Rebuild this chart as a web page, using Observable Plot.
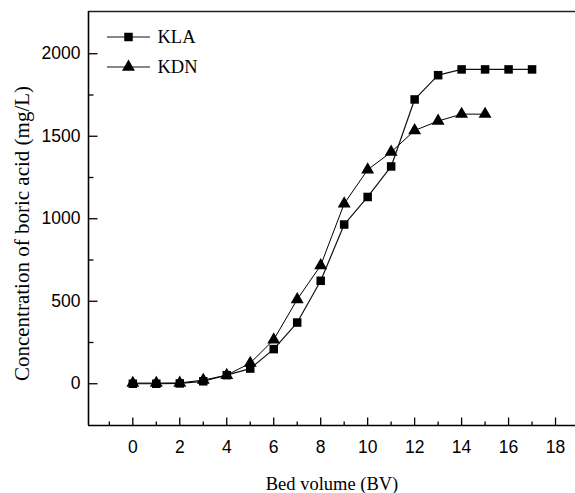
<!DOCTYPE html>
<html>
<head>
<meta charset="utf-8">
<script src="https://cdn.jsdelivr.net/npm/d3@7"></script>
<script src="https://cdn.jsdelivr.net/npm/@observablehq/plot@0.6"></script>
<style>
  html, body { margin: 0; padding: 0; background: #fff; }
  svg { display: block; }
</style>
</head>
<body>
<div id="chart"></div>
<script>
// Data
const bedVolumeKLA = [0, 1, 2, 3, 4, 5, 6, 7, 8, 9, 10, 11, 12, 13, 14, 15, 16, 17];
const concKLA = [0, 0, 2, 15, 52, 92, 210, 371, 624, 965, 1132, 1317, 1723, 1870, 1905, 1905, 1905, 1905];
const bedVolumeKDN = [0, 1, 2, 3, 4, 5, 6, 7, 8, 9, 10, 11, 12, 13, 14, 15];
const concKDN = [4, 4, 5, 22, 52, 125, 267, 511, 717, 1091, 1297, 1404, 1535, 1592, 1634, 1634];
const xTicksMajor = [0, 2, 4, 6, 8, 10, 12, 14, 16, 18];
const xTicksMinor = [-1, 1, 3, 5, 7, 9, 11, 13, 15, 17];
const yTicksMajor = [0, 500, 1000, 1500, 2000];
const yTicksMinor = [250, 750, 1250, 1750];
const xDomain = [-1.887, 18.85];
const yDomain = [-253, 2256];

const kla = bedVolumeKLA.map((x, i) => ({x, y: concKLA[i]}));
const kdn = bedVolumeKDN.map((x, i) => ({x, y: concKDN[i]}));

const serif = "Liberation Serif, Times New Roman, serif";
const sans = "Liberation Sans, Arial, sans-serif";

// custom tick symbols (segments drawn inward)
const upTick = len => ({draw(ctx) { ctx.moveTo(0, 0); ctx.lineTo(0, -len); }});
const rightTick = len => ({draw(ctx) { ctx.moveTo(0, 0); ctx.lineTo(len, 0); }});

const chart = Plot.plot({
  width: 575,
  height: 493,
  marginLeft: 88,
  marginTop: 11,
  marginRight: 0,
  marginBottom: 68,
  style: {background: "#fff", fontFamily: sans},
  x: {domain: xDomain, axis: null},
  y: {domain: yDomain, axis: null},
  marks: [
    // frame lines
    Plot.ruleY([yDomain[0]], {stroke: "#000", strokeWidth: 1.6}),
    Plot.ruleY([yDomain[1]], {stroke: "#222", strokeWidth: 1.4}),
    Plot.ruleX([xDomain[0]], {stroke: "#000", strokeWidth: 1.6}),
    // x ticks (inward)
    Plot.dot(xTicksMajor, {x: d => d, y: yDomain[0], symbol: upTick(8), r: 1, stroke: "#000", strokeWidth: 1.3, fill: "none"}),
    Plot.dot(xTicksMinor, {x: d => d, y: yDomain[0], symbol: upTick(4), r: 1, stroke: "#000", strokeWidth: 1.3, fill: "none"}),
    // y ticks (inward)
    Plot.dot(yTicksMajor, {x: xDomain[0], y: d => d, symbol: rightTick(9), r: 1, stroke: "#000", strokeWidth: 1.3, fill: "none"}),
    Plot.dot(yTicksMinor, {x: xDomain[0], y: d => d, symbol: rightTick(5), r: 1, stroke: "#000", strokeWidth: 1.3, fill: "none"}),
    // tick labels
    Plot.text(xTicksMajor, {x: d => d, y: yDomain[0], text: d => String(d), dy: 22, fontSize: 17.5, fontFamily: sans, fill: "#000"}),
    Plot.text(yTicksMajor, {x: xDomain[0], y: d => d, text: d => String(d), dx: -8, textAnchor: "end", fontSize: 17.5, fontFamily: sans, fill: "#000"}),
    // axis titles
    Plot.text(["Bed volume (BV)"], {frameAnchor: "bottom", text: d => d, lineAnchor: "middle", textAnchor: "middle", dy: 59, fontSize: 18.5, fontFamily: serif, fill: "#000"}),
    Plot.text(["Concentration of boric acid (mg/L)"], {frameAnchor: "left", text: d => d, textAnchor: "middle", lineAnchor: "middle", dx: -66, dy: 15, rotate: -90, fontSize: 21, fontFamily: serif, fill: "#000"}),
    // series
    Plot.line(kla, {x: "x", y: "y", stroke: "#111", strokeWidth: 1.2}),
    Plot.line(kdn, {x: "x", y: "y", stroke: "#000", strokeWidth: 1}),
    Plot.dot(kla, {x: "x", y: "y", symbol: "square", r: 4.8, fill: "#000", stroke: "none"}),
    Plot.dot(kdn, {x: "x", y: "y", symbol: "triangle", r: 4.8, fill: "#000", stroke: "none"})
  ]
});

// Legend (top-left, inside the frame)
const svg = d3.select(chart);
const legend = [
  {name: "KLA", symbol: d3.symbolSquare, cy: 37},
  {name: "KDN", symbol: d3.symbolTriangle, cy: 67}
];
const lg = svg.append("g").attr("text-anchor", "start");
legend.forEach(l => {
  lg.append("line").attr("x1", 107).attr("x2", 150).attr("y1", l.cy).attr("y2", l.cy)
    .attr("stroke", "#111").attr("stroke-width", 1.2);
  lg.append("path").attr("d", d3.symbol(l.symbol, Math.PI * 4.8 * 4.8)())
    .attr("transform", `translate(128.5,${l.cy})`).attr("fill", "#000");
  lg.append("text").attr("x", 157.5).attr("y", l.cy).attr("dy", "0.35em")
    .attr("text-anchor", "start")
    .attr("font-family", serif).attr("font-size", 18.5).attr("fill", "#000").text(l.name);
});

document.getElementById("chart").appendChild(chart);
</script>
</body>
</html>
